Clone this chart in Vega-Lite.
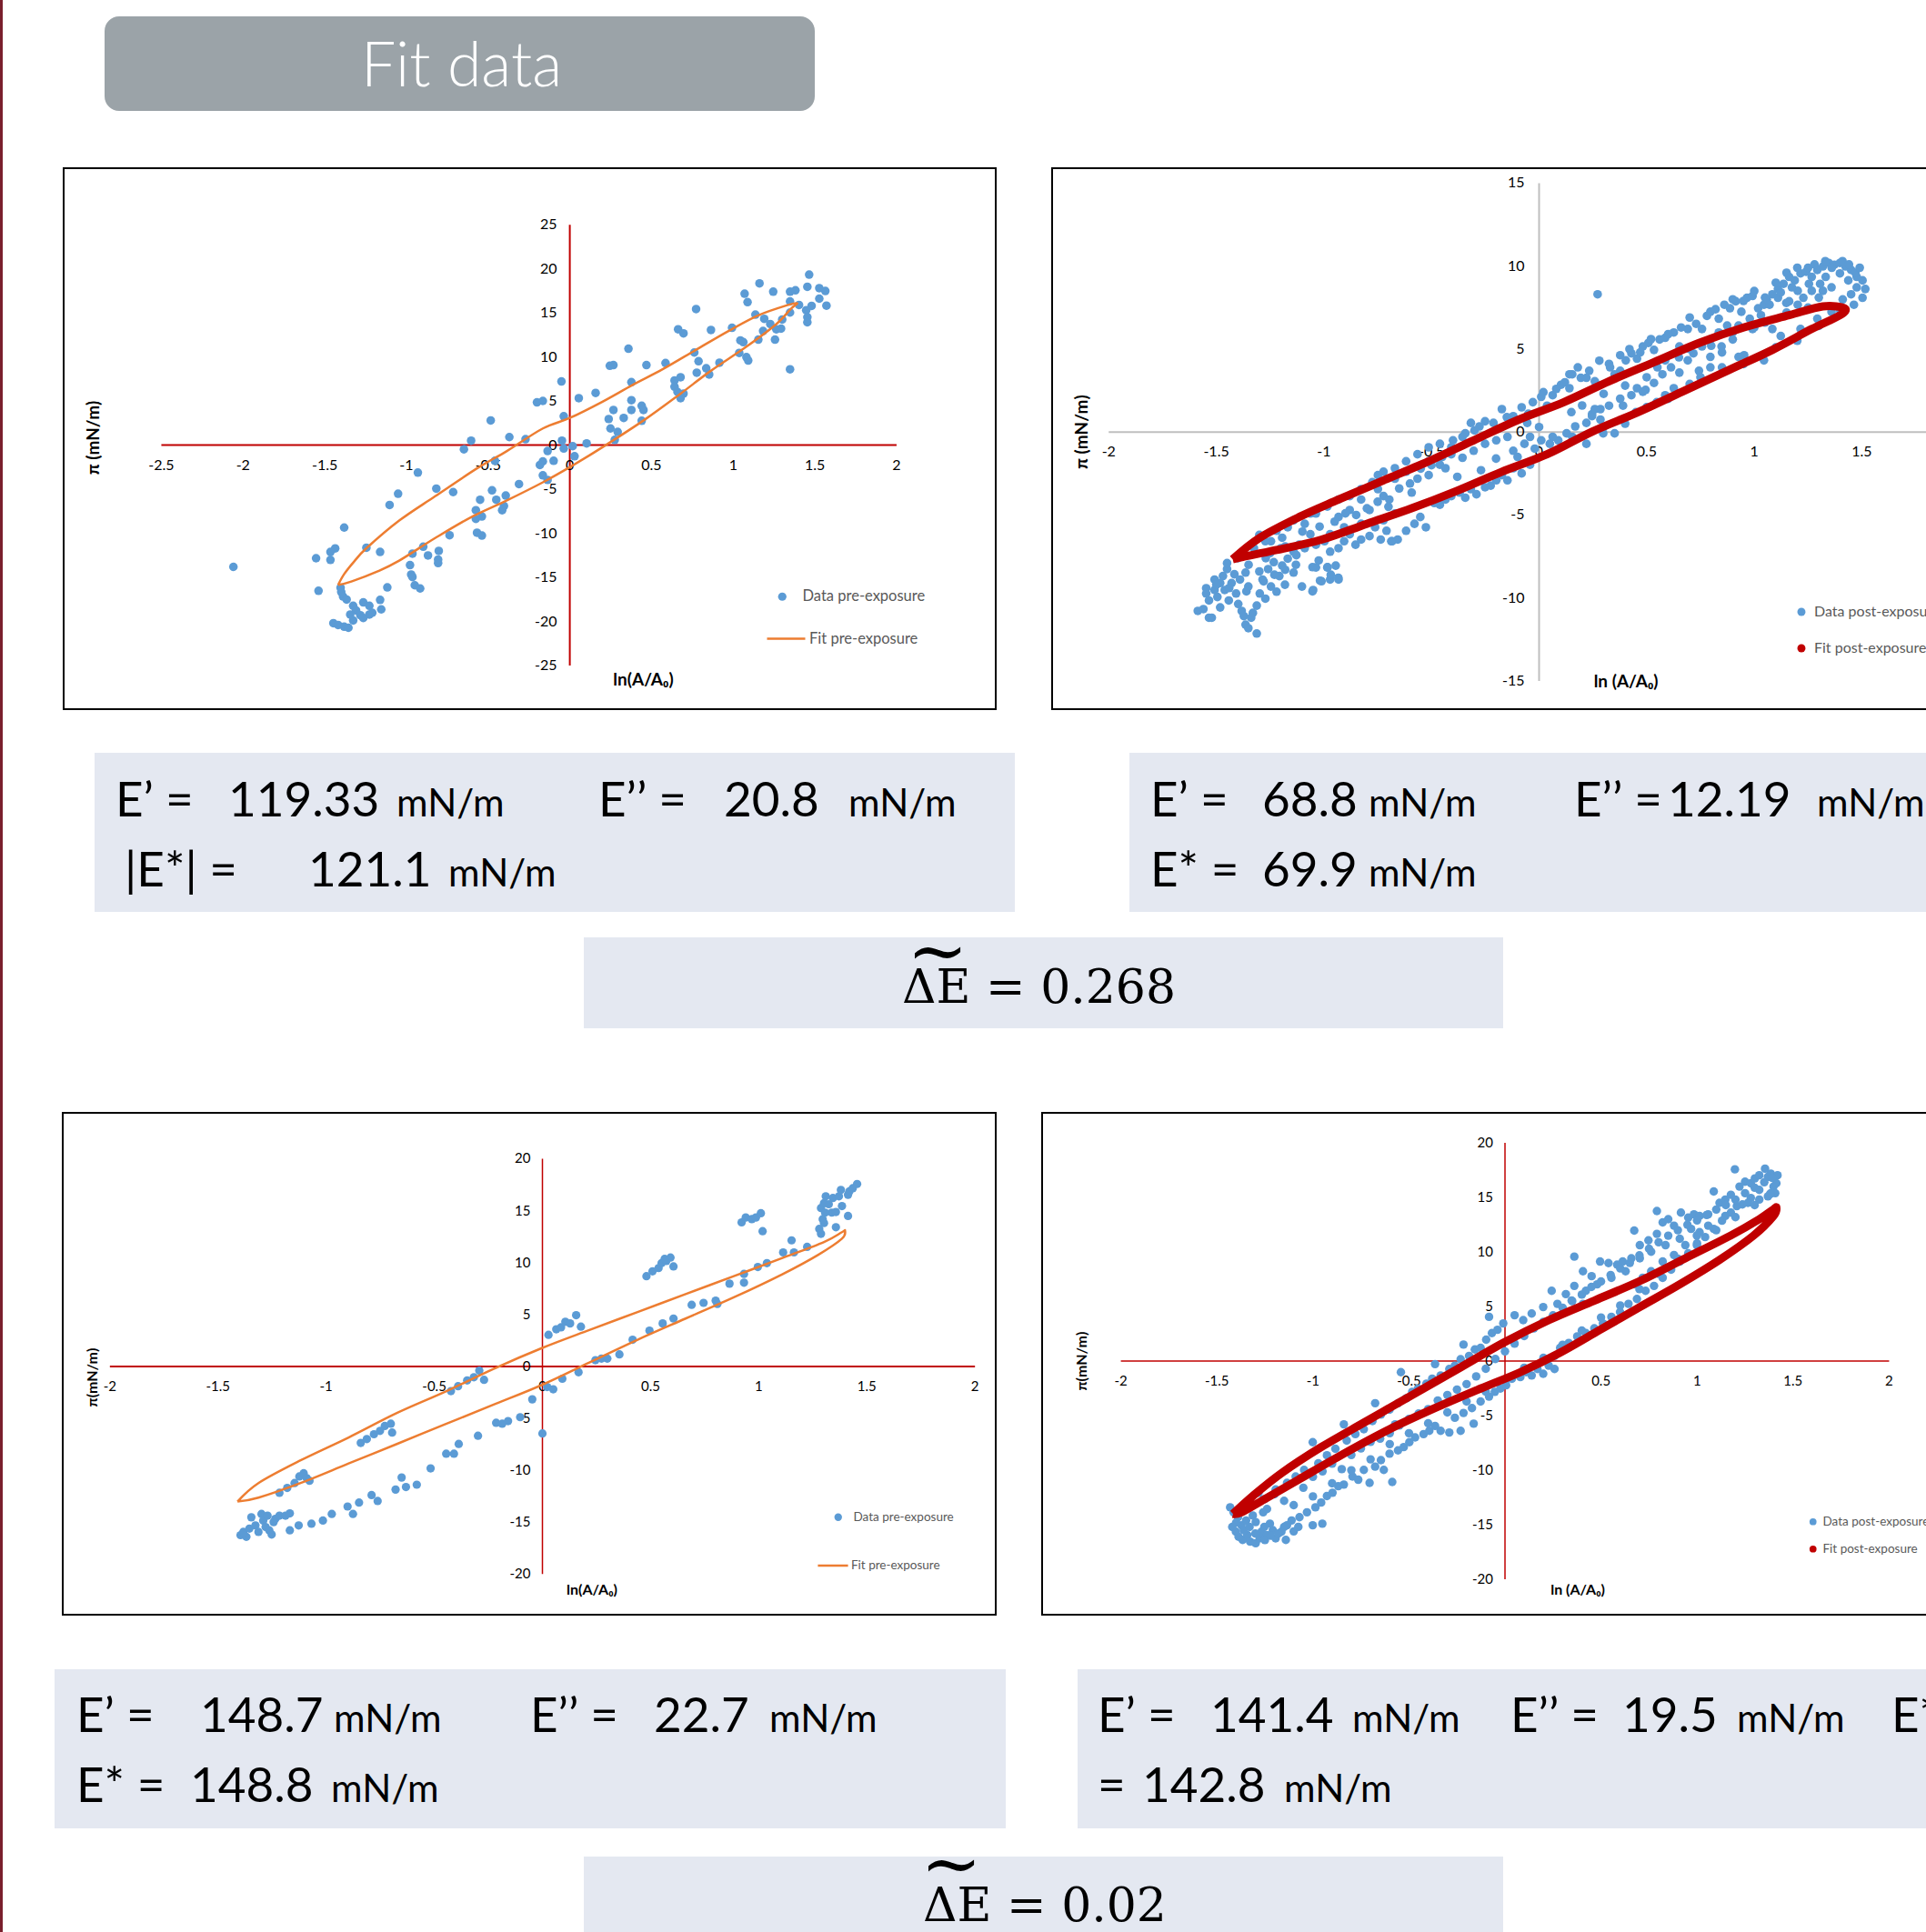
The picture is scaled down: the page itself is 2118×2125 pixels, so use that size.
{
"$schema": "https://vega.github.io/schema/vega-lite/v6.json",
"padding": 0,
"background": "white",
"spacing": 0,
"resolve": {"scale": {"color": "independent", "stroke": "independent"}, "legend": {"color": "independent", "stroke": "independent"}},
"config": {
  "view": {"stroke": null},
  "font": "Lato",
  "locale": {"number": {"decimal": ".", "thousands": ",", "grouping": [3], "currency": ["$", ""], "minus": "-"}},
  "style": {
    "big": {"font": "Lato", "fontSize": 53, "align": "left", "baseline": "alphabetic", "fill": "#000000"},
    "small": {"font": "Lato", "fontSize": 42, "align": "left", "baseline": "alphabetic", "fill": "#000000"},
    "tickx": {"font": "Lato", "fontSize": 16, "align": "center", "baseline": "middle", "fill": "#595959"},
    "ticky": {"font": "Lato", "fontSize": 16, "align": "right", "baseline": "middle", "fill": "#595959"},
    "tickx2": {"font": "Lato", "fontSize": 15, "align": "center", "baseline": "middle", "fill": "#595959"},
    "ticky2": {"font": "Lato", "fontSize": 15, "align": "right", "baseline": "middle", "fill": "#595959"},
    "atitle": {"font": "Lato", "fontSize": 19, "fontWeight": "bold", "align": "center", "baseline": "middle", "fill": "#595959"},
    "atitle2": {"font": "Lato", "fontSize": 16, "fontWeight": "bold", "align": "center", "baseline": "middle", "fill": "#595959"},
    "serif": {"font": "DejaVu Serif", "fontSize": 52, "align": "left", "baseline": "alphabetic", "fill": "#000000"},
    "tilde": {"font": "DejaVu Serif", "fontSize": 80, "align": "center", "baseline": "alphabetic", "fill": "#000000"}
  }
},
"datasets": {
  "p1": [{"x":1.465,"y":19.34},{"x":1.161,"y":18.35},{"x":1.07,"y":17.17},{"x":1.088,"y":16.22},{"x":1.245,"y":17.4},{"x":1.348,"y":17.4},{"x":1.381,"y":17.56},{"x":1.454,"y":17.96},{"x":1.527,"y":17.8},{"x":1.564,"y":17.48},{"x":1.527,"y":16.61},{"x":1.48,"y":15.79},{"x":1.571,"y":15.82},{"x":1.348,"y":16.3},{"x":1.403,"y":15.9},{"x":1.447,"y":15.3},{"x":1.454,"y":14.52},{"x":1.454,"y":13.93},{"x":1.348,"y":15.04},{"x":1.136,"y":14.8},{"x":1.19,"y":14.32},{"x":1.227,"y":13.73},{"x":1.3,"y":14.25},{"x":1.264,"y":13.14},{"x":1.293,"y":13.22},{"x":1.183,"y":12.94},{"x":1.256,"y":11.96},{"x":1.154,"y":11.96},{"x":1.044,"y":11.88},{"x":1.062,"y":11.68},{"x":1.037,"y":10.46},{"x":1.081,"y":9.98},{"x":1.092,"y":9.59},{"x":1.348,"y":8.6},{"x":0.993,"y":13.3},{"x":0.864,"y":13.06},{"x":0.773,"y":15.43},{"x":0.663,"y":13.14},{"x":0.696,"y":12.67},{"x":0.762,"y":10.5},{"x":0.788,"y":9.51},{"x":0.777,"y":8.21},{"x":0.835,"y":8.72},{"x":0.853,"y":8.01},{"x":0.916,"y":9.35},{"x":0.586,"y":9.31},{"x":0.469,"y":9.08},{"x":0.359,"y":10.93},{"x":0.245,"y":9.0},{"x":0.267,"y":9.08},{"x":0.377,"y":7.14},{"x":0.641,"y":7.34},{"x":0.678,"y":7.7},{"x":0.641,"y":6.63},{"x":0.659,"y":6.04},{"x":0.696,"y":5.84},{"x":0.678,"y":5.33},{"x":0.158,"y":5.92},{"x":0.055,"y":5.33},{"x":-0.051,"y":7.22},{"x":-0.037,"y":3.28},{"x":-0.201,"y":4.85},{"x":-0.165,"y":5.01},{"x":-0.484,"y":2.8},{"x":-0.37,"y":0.91},{"x":-0.271,"y":0.67},{"x":-0.604,"y":0.51},{"x":-0.648,"y":-0.47},{"x":-0.048,"y":0.51},{"x":-0.037,"y":-0.39},{"x":0.018,"y":-0.12},{"x":0.103,"y":0.2},{"x":0.267,"y":3.99},{"x":0.377,"y":3.99},{"x":0.33,"y":3.08},{"x":0.377,"y":5.09},{"x":0.44,"y":4.46},{"x":0.451,"y":3.99},{"x":0.44,"y":2.76},{"x":0.238,"y":2.96},{"x":0.249,"y":1.89},{"x":0.293,"y":1.5},{"x":0.275,"y":0.59},{"x":-0.136,"y":-0.67},{"x":-0.099,"y":-1.78},{"x":-0.165,"y":-1.85},{"x":-0.183,"y":-2.25},{"x":0.029,"y":-1.26},{"x":-0.165,"y":-3.43},{"x":-0.136,"y":-3.95},{"x":-0.458,"y":-1.78},{"x":-0.311,"y":-4.42},{"x":-0.476,"y":-5.13},{"x":-0.392,"y":-5.72},{"x":-0.45,"y":-6.2},{"x":-0.549,"y":-6.2},{"x":-0.403,"y":-6.91},{"x":-0.414,"y":-7.38},{"x":-0.575,"y":-7.38},{"x":-0.538,"y":-8.09},{"x":-0.575,"y":-8.37},{"x":-0.568,"y":-9.94},{"x":-0.538,"y":-10.26},{"x":-0.736,"y":-10.22},{"x":-0.714,"y":-5.33},{"x":-0.817,"y":-4.93},{"x":-0.93,"y":-3.12},{"x":-1.051,"y":-5.52},{"x":-1.103,"y":-6.79},{"x":-1.381,"y":-9.35},{"x":-1.245,"y":-11.64},{"x":-1.161,"y":-12.12},{"x":-1.436,"y":-11.72},{"x":-1.465,"y":-12.12},{"x":-1.553,"y":-12.83},{"x":-1.465,"y":-13.02},{"x":-2.059,"y":-13.81},{"x":-0.897,"y":-11.52},{"x":-0.802,"y":-12.0},{"x":-0.868,"y":-12.51},{"x":-0.963,"y":-12.31},{"x":-0.806,"y":-12.98},{"x":-0.806,"y":-13.38},{"x":-0.978,"y":-13.61},{"x":-0.971,"y":-14.68},{"x":-0.963,"y":-14.96},{"x":-0.949,"y":-15.9},{"x":-0.916,"y":-16.26},{"x":-1.117,"y":-16.14},{"x":-1.538,"y":-16.53},{"x":-1.403,"y":-16.18},{"x":-1.399,"y":-16.65},{"x":-1.388,"y":-17.17},{"x":-1.366,"y":-17.52},{"x":-1.326,"y":-18.23},{"x":-1.264,"y":-17.84},{"x":-1.227,"y":-18.23},{"x":-1.161,"y":-17.56},{"x":-1.154,"y":-18.63},{"x":-1.308,"y":-18.75},{"x":-1.344,"y":-19.22},{"x":-1.282,"y":-19.3},{"x":-1.227,"y":-19.22},{"x":-1.209,"y":-19.02},{"x":-1.326,"y":-19.89},{"x":-1.264,"y":-19.61},{"x":-1.447,"y":-20.2},{"x":-1.418,"y":-20.4},{"x":-1.381,"y":-20.6},{"x":-1.355,"y":-20.72}],
  "p1fit": [{"i":0,"x":-1.418,"y":-15.86},{"i":1,"x":-1.38,"y":-14.6},{"i":2,"x":-1.32,"y":-13.2},{"i":3,"x":-1.245,"y":-11.7},{"i":4,"x":-1.044,"y":-8.56},{"i":5,"x":-0.824,"y":-5.8},{"i":6,"x":-0.568,"y":-2.64},{"i":7,"x":-0.385,"y":-0.67},{"i":8,"x":-0.165,"y":1.89},{"i":9,"x":0,"y":3.08},{"i":10,"x":0.2,"y":4.93},{"i":11,"x":0.385,"y":6.83},{"i":12,"x":0.568,"y":8.6},{"i":13,"x":0.769,"y":10.77},{"i":14,"x":0.971,"y":12.94},{"i":15,"x":1.154,"y":14.72},{"i":16,"x":1.337,"y":15.9},{"i":17,"x":1.392,"y":16.1},{"i":18,"x":1.355,"y":15.5},{"i":19,"x":1.264,"y":13.73},{"i":20,"x":1.081,"y":11.17},{"i":21,"x":0.861,"y":8.4},{"i":22,"x":0.678,"y":5.84},{"i":23,"x":0.458,"y":2.88},{"i":24,"x":0.22,"y":0},{"i":25,"x":0.018,"y":-2.3},{"i":26,"x":-0.165,"y":-4.22},{"i":27,"x":-0.385,"y":-6.27},{"i":28,"x":-0.604,"y":-8.17},{"i":29,"x":-0.824,"y":-10.54},{"i":30,"x":-1.044,"y":-13.1},{"i":31,"x":-1.172,"y":-14.29},{"i":32,"x":-1.337,"y":-15.47},{"i":33,"x":-1.418,"y":-15.86}],
  "p2": [{"x":-1.56,"y":-10.67},{"x":-1.547,"y":-9.41},{"x":-1.534,"y":-10.15},{"x":-1.521,"y":-11.19},{"x":-1.508,"y":-8.89},{"x":-1.495,"y":-9.94},{"x":-1.482,"y":-10.57},{"x":-1.469,"y":-8.68},{"x":-1.461,"y":-9.52},{"x":-1.45,"y":-8.26},{"x":-1.442,"y":-10.15},{"x":-1.429,"y":-9.1},{"x":-1.416,"y":-8.57},{"x":-1.408,"y":-9.73},{"x":-1.398,"y":-10.36},{"x":-1.39,"y":-8.89},{"x":-1.382,"y":-10.78},{"x":-1.372,"y":-11.09},{"x":-1.364,"y":-11.61},{"x":-1.351,"y":-11.82},{"x":-1.338,"y":-11.19},{"x":-1.312,"y":-12.14},{"x":-1.312,"y":-10.46},{"x":-1.351,"y":-9.31},{"x":-1.364,"y":-8.47},{"x":-1.298,"y":-9.73},{"x":-1.285,"y":-8.89},{"x":-1.272,"y":-10.04},{"x":-1.259,"y":-8.26},{"x":-1.246,"y":-9.31},{"x":-1.233,"y":-7.84},{"x":-1.22,"y":-9.62},{"x":-1.207,"y":-8.68},{"x":-1.194,"y":-8.05},{"x":-1.181,"y":-9.2},{"x":-1.168,"y":-7.63},{"x":-1.141,"y":-8.47},{"x":-1.128,"y":-7.42},{"x":-1.102,"y":-9.31},{"x":-1.05,"y":-9.52},{"x":-1.037,"y":-8.16},{"x":-1.011,"y":-8.99},{"x":-0.984,"y":-8.16},{"x":-0.971,"y":-8.89},{"x":-0.932,"y":-8.89},{"x":-1.534,"y":-11.19},{"x":-1.586,"y":-10.78},{"x":-1.547,"y":-9.73},{"x":-1.508,"y":-9.52},{"x":-1.482,"y":-9.1},{"x":-1.325,"y":-7.0},{"x":-1.246,"y":-6.58},{"x":-1.194,"y":-6.37},{"x":-1.141,"y":-7.21},{"x":-1.089,"y":-7.0},{"x":-1.037,"y":-6.79},{"x":-0.997,"y":-6.58},{"x":-0.971,"y":-7.21},{"x":-0.932,"y":-7.0},{"x":-0.906,"y":-6.58},{"x":-0.88,"y":-6.16},{"x":-0.853,"y":-6.79},{"x":-0.827,"y":-6.48},{"x":-0.788,"y":-6.27},{"x":-0.762,"y":-5.74},{"x":-0.736,"y":-6.48},{"x":-0.709,"y":-5.95},{"x":-0.683,"y":-6.58},{"x":-0.657,"y":-6.48},{"x":-0.618,"y":-5.95},{"x":-0.579,"y":-5.53},{"x":-0.552,"y":-5.12},{"x":-0.526,"y":-5.74},{"x":-0.487,"y":-4.28},{"x":-0.461,"y":-4.38},{"x":-0.435,"y":-4.07},{"x":-0.408,"y":-3.86},{"x":-0.369,"y":-3.65},{"x":-0.343,"y":-3.96},{"x":-0.317,"y":-3.44},{"x":-0.291,"y":-3.75},{"x":-0.251,"y":-3.33},{"x":-0.225,"y":-3.23},{"x":-0.199,"y":-2.91},{"x":-0.173,"y":-2.6},{"x":-0.147,"y":-2.91},{"x":-0.12,"y":-2.18},{"x":-0.081,"y":-2.49},{"x":-0.042,"y":-1.97},{"x":-0.67,"y":-4.91},{"x":-0.723,"y":-5.32},{"x":-0.827,"y":-5.53},{"x":-0.906,"y":-5.74},{"x":-0.971,"y":-6.16},{"x":-1.063,"y":-6.16},{"x":-1.115,"y":-6.79},{"x":-1.024,"y":-7.74},{"x":-0.945,"y":-8.05},{"x":-1.168,"y":-5.74},{"x":-1.089,"y":-5.53},{"x":-1.037,"y":-4.91},{"x":-0.932,"y":-5.12},{"x":-0.88,"y":-4.7},{"x":-0.827,"y":-4.07},{"x":-0.749,"y":-3.44},{"x":-0.723,"y":-3.86},{"x":-0.67,"y":-2.81},{"x":-0.618,"y":-2.39},{"x":-0.565,"y":-2.81},{"x":-0.513,"y":-2.6},{"x":-0.461,"y":-1.97},{"x":-0.408,"y":-1.34},{"x":-0.356,"y":-1.55},{"x":-0.304,"y":-1.13},{"x":-0.251,"y":-0.71},{"x":-0.199,"y":-0.5},{"x":-0.147,"y":-0.29},{"x":-0.12,"y":-1.13},{"x":-0.068,"y":-0.71},{"x":-0.042,"y":-0.29},{"x":-0.788,"y":-4.7},{"x":-0.696,"y":-4.07},{"x":-0.592,"y":-3.65},{"x":-0.513,"y":-1.76},{"x":-0.435,"y":-2.18},{"x":-1.272,"y":-6.58},{"x":-1.22,"y":-5.95},{"x":-1.141,"y":-5.32},{"x":-1.063,"y":-4.91},{"x":-0.984,"y":-4.49},{"x":-0.932,"y":-4.07},{"x":-0.88,"y":-3.86},{"x":-0.827,"y":-3.44},{"x":-0.775,"y":-3.02},{"x":-0.749,"y":-2.6},{"x":-0.723,"y":-2.39},{"x":-0.67,"y":-2.18},{"x":-0.618,"y":-1.76},{"x":-0.565,"y":-1.34},{"x":-0.513,"y":-0.92},{"x":-0.461,"y":-0.71},{"x":-0.408,"y":-0.92},{"x":-0.356,"y":-0.29},{"x":-0.343,"y":-0.08},{"x":-0.317,"y":0.55},{"x":-0.277,"y":0.34},{"x":-0.251,"y":0.65},{"x":-0.212,"y":0.55},{"x":-0.173,"y":1.38},{"x":-0.12,"y":0.96},{"x":-0.081,"y":1.49},{"x":-0.055,"y":0.55},{"x":-0.029,"y":1.8},{"x":0.01,"y":2.12},{"x":0.037,"y":1.59},{"x":0.063,"y":2.22},{"x":0.102,"y":2.85},{"x":0.141,"y":2.64},{"x":0.154,"y":3.48},{"x":0.194,"y":3.27},{"x":0.233,"y":3.69},{"x":0.259,"y":3.06},{"x":0.325,"y":4.11},{"x":0.351,"y":3.48},{"x":0.377,"y":4.63},{"x":0.403,"y":4.32},{"x":0.429,"y":4.74},{"x":0.455,"y":4.42},{"x":0.482,"y":5.16},{"x":0.508,"y":5.37},{"x":0.534,"y":4.95},{"x":0.56,"y":5.58},{"x":0.586,"y":5.68},{"x":0.626,"y":6.0},{"x":0.652,"y":5.16},{"x":0.691,"y":6.21},{"x":0.73,"y":6.52},{"x":0.757,"y":6.21},{"x":0.796,"y":7.25},{"x":0.835,"y":6.83},{"x":0.861,"y":7.67},{"x":0.887,"y":7.46},{"x":0.914,"y":7.88},{"x":0.94,"y":7.25},{"x":0.966,"y":8.09},{"x":0.992,"y":8.2},{"x":1.018,"y":7.46},{"x":1.045,"y":7.67},{"x":1.084,"y":8.3},{"x":1.11,"y":8.62},{"x":1.136,"y":8.93},{"x":1.162,"y":9.35},{"x":1.188,"y":9.14},{"x":1.215,"y":9.56},{"x":1.241,"y":9.66},{"x":1.267,"y":9.35},{"x":1.293,"y":9.77},{"x":1.319,"y":9.98},{"x":1.346,"y":10.19},{"x":1.372,"y":10.08},{"x":1.398,"y":10.19},{"x":1.424,"y":9.98},{"x":1.45,"y":9.77},{"x":1.476,"y":9.35},{"x":1.503,"y":9.14},{"x":1.516,"y":8.62},{"x":1.503,"y":8.09},{"x":1.463,"y":7.67},{"x":1.411,"y":7.99},{"x":1.359,"y":8.72},{"x":1.306,"y":8.93},{"x":1.267,"y":8.51},{"x":1.228,"y":8.09},{"x":1.202,"y":7.67},{"x":1.162,"y":7.88},{"x":1.11,"y":8.09},{"x":1.071,"y":7.67},{"x":1.031,"y":7.04},{"x":0.979,"y":6.83},{"x":0.927,"y":6.42},{"x":0.874,"y":6.42},{"x":0.835,"y":6.0},{"x":0.796,"y":5.58},{"x":0.757,"y":5.16},{"x":0.717,"y":4.74},{"x":0.691,"y":4.32},{"x":0.652,"y":3.58},{"x":0.613,"y":3.9},{"x":0.573,"y":3.48},{"x":0.534,"y":2.96},{"x":0.495,"y":2.54},{"x":0.455,"y":2.64},{"x":0.429,"y":2.22},{"x":0.377,"y":2.01},{"x":0.325,"y":1.59},{"x":0.285,"y":1.38},{"x":0.246,"y":0.96},{"x":0.22,"y":0.55},{"x":0.168,"y":0.34},{"x":0.128,"y":-0.08},{"x":0.089,"y":-0.5},{"x":0.05,"y":-0.71},{"x":0.01,"y":-0.5},{"x":0.063,"y":-0.29},{"x":0.154,"y":-0.29},{"x":0.22,"y":-0.71},{"x":0.298,"y":-0.08},{"x":0.351,"y":-0.08},{"x":0.246,"y":1.07},{"x":0.259,"y":1.38},{"x":0.953,"y":4.63},{"x":1.045,"y":4.32},{"x":1.123,"y":5.79},{"x":1.215,"y":6.21},{"x":1.293,"y":6.83},{"x":1.359,"y":7.25},{"x":0.626,"y":2.64},{"x":0.586,"y":2.22},{"x":0.547,"y":1.8},{"x":0.482,"y":2.43},{"x":0.39,"y":1.59},{"x":0.285,"y":0.75},{"x":0.141,"y":3.48},{"x":0.22,"y":3.27},{"x":0.377,"y":3.69},{"x":0.586,"y":4.32},{"x":0.743,"y":3.69},{"x":0.796,"y":3.9},{"x":0.848,"y":5.16},{"x":0.9,"y":5.58},{"x":0.927,"y":4.53},{"x":0.796,"y":4.53},{"x":1.084,"y":6.21},{"x":0.992,"y":6.21},{"x":0.272,"y":8.3},{"x":1.149,"y":7.78},{"x":1.202,"y":8.51},{"x":1.332,"y":9.35},{"x":1.398,"y":9.56},{"x":1.437,"y":9.14},{"x":1.476,"y":8.72},{"x":1.45,"y":8.3},{"x":1.319,"y":8.51},{"x":1.254,"y":8.93},{"x":1.175,"y":8.72},{"x":1.123,"y":8.41},{"x":1.058,"y":7.99},{"x":0.02,"y":2.4},{"x":0.08,"y":2.6},{"x":0.12,"y":3.0},{"x":0.18,"y":3.9},{"x":0.28,"y":4.3},{"x":0.33,"y":3.9},{"x":0.42,"y":5.0},{"x":0.47,"y":4.8},{"x":0.52,"y":5.6},{"x":0.6,"y":5.9},{"x":0.66,"y":6.3},{"x":0.7,"y":6.9},{"x":0.78,"y":7.0},{"x":0.82,"y":7.4},{"x":0.9,"y":8.0},{"x":0.95,"y":7.9},{"x":1.0,"y":8.5},{"x":1.05,"y":8.1},{"x":1.1,"y":9.0},{"x":1.15,"y":9.6},{"x":1.2,"y":9.9},{"x":1.25,"y":9.9},{"x":1.28,"y":10.1},{"x":1.33,"y":10.3},{"x":1.36,"y":9.9},{"x":1.41,"y":10.3},{"x":1.44,"y":10.1},{"x":1.47,"y":9.6},{"x":1.49,"y":9.9},{"x":0.15,"y":1.2},{"x":0.2,"y":1.6},{"x":0.3,"y":2.3},{"x":0.4,"y":2.8},{"x":0.5,"y":3.3},{"x":0.55,"y":3.9},{"x":0.65,"y":4.5},{"x":0.7,"y":5.0},{"x":0.8,"y":5.2},{"x":0.85,"y":4.8},{"x":0.9,"y":6.0},{"x":1.0,"y":6.3},{"x":1.05,"y":6.6},{"x":1.15,"y":7.2},{"x":1.25,"y":7.5},{"x":1.3,"y":8.1},{"x":0.3,"y":0.3},{"x":0.4,"y":0.5},{"x":0.45,"y":1.2},{"x":0.5,"y":1.5},{"x":0.6,"y":2.0},{"x":0.7,"y":2.9},{"x":0.75,"y":3.3},{"x":0.85,"y":3.9},{"x":0.95,"y":4.1},{"x":1.1,"y":5.1},{"x":1.2,"y":5.5},{"x":1.3,"y":6.4},{"x":1.4,"y":7.3},{"x":-1.3,"y":-6.2},{"x":-1.25,"y":-7.3},{"x":-1.18,"y":-6.9},{"x":-1.1,"y":-6.0},{"x":-1.02,"y":-5.7},{"x":-0.95,"y":-5.4},{"x":-0.9,"y":-4.9},{"x":-0.85,"y":-5.0},{"x":-0.8,"y":-4.6},{"x":-0.75,"y":-4.2},{"x":-0.7,"y":-4.5},{"x":-0.65,"y":-3.4},{"x":-0.6,"y":-3.1},{"x":-0.55,"y":-2.2},{"x":-0.5,"y":-2.0},{"x":-0.45,"y":-1.5},{"x":-0.4,"y":-0.5},{"x":-0.38,"y":-2.7},{"x":-0.3,"y":0.1},{"x":-0.27,"y":-2.3},{"x":-0.2,"y":-1.6},{"x":-0.15,"y":0.9},{"x":-0.1,"y":-1.5},{"x":-0.05,"y":1.1},{"x":-0.02,"y":-1.0},{"x":0.0,"y":0.3},{"x":-1.45,"y":-7.9},{"x":-1.4,"y":-7.6},{"x":-1.35,"y":-8.0},{"x":-1.3,"y":-8.4},{"x":-1.27,"y":-7.6},{"x":-1.2,"y":-7.0},{"x":-1.5,"y":-9.2},{"x":-1.44,"y":-9.4},{"x":-1.36,"y":-9.6},{"x":-1.33,"y":-10.9},{"x":-1.28,"y":-9.0},{"x":-1.23,"y":-8.6},{"x":-1.18,"y":-8.3},{"x":-1.13,"y":-8.0},{"x":-1.053,"y":-8.14},{"x":-0.983,"y":-8.14},{"x":-1.018,"y":-8.96},{"x":-0.968,"y":-8.6},{"x":-0.933,"y":-8.78},{"x":-1.053,"y":-9.6},{"x":-0.687,"y":-6.58}],
  "p2fit": [{"i":0,"x":-1.424,"y":-7.67},{"i":1,"x":-1.298,"y":-6.37},{"i":2,"x":-1.115,"y":-5.12},{"i":3,"x":-0.932,"y":-4.07},{"i":4,"x":-0.723,"y":-2.91},{"i":5,"x":-0.513,"y":-1.76},{"i":6,"x":-0.304,"y":-0.5},{"i":7,"x":-0.094,"y":0.75},{"i":8,"x":0.115,"y":1.8},{"i":9,"x":0.325,"y":3.06},{"i":10,"x":0.534,"y":4.21},{"i":11,"x":0.743,"y":5.37},{"i":12,"x":0.953,"y":6.31},{"i":13,"x":1.162,"y":7.04},{"i":14,"x":1.319,"y":7.57},{"i":15,"x":1.419,"y":7.46},{"i":16,"x":1.398,"y":7.04},{"i":17,"x":1.267,"y":6.21},{"i":18,"x":1.084,"y":4.95},{"i":19,"x":0.874,"y":3.69},{"i":20,"x":0.665,"y":2.43},{"i":21,"x":0.455,"y":1.17},{"i":22,"x":0.246,"y":0.02},{"i":23,"x":0.037,"y":-1.34},{"i":24,"x":-0.173,"y":-2.39},{"i":25,"x":-0.382,"y":-3.54},{"i":26,"x":-0.592,"y":-4.59},{"i":27,"x":-0.801,"y":-5.53},{"i":28,"x":-1.011,"y":-6.48},{"i":29,"x":-1.22,"y":-7.11},{"i":30,"x":-1.377,"y":-7.53},{"i":31,"x":-1.424,"y":-7.67}],
  "p3": [{"x":-1.396,"y":-16.25},{"x":-1.369,"y":-16.41},{"x":-1.383,"y":-15.94},{"x":-1.355,"y":-15.62},{"x":-1.346,"y":-14.53},{"x":-1.327,"y":-15.31},{"x":-1.313,"y":-15.94},{"x":-1.299,"y":-14.21},{"x":-1.291,"y":-14.84},{"x":-1.28,"y":-15.47},{"x":-1.271,"y":-14.37},{"x":-1.263,"y":-15.78},{"x":-1.252,"y":-16.19},{"x":-1.243,"y":-14.99},{"x":-1.235,"y":-14.68},{"x":-1.216,"y":-14.37},{"x":-1.188,"y":-14.37},{"x":-1.168,"y":-14.15},{"x":-1.168,"y":-15.78},{"x":-1.127,"y":-15.31},{"x":-1.068,"y":-15.15},{"x":-1.015,"y":-14.84},{"x":-0.974,"y":-14.21},{"x":-0.901,"y":-13.49},{"x":-0.876,"y":-14.21},{"x":-0.848,"y":-13.11},{"x":-0.79,"y":-12.39},{"x":-0.762,"y":-12.96},{"x":-0.679,"y":-11.86},{"x":-0.651,"y":-10.7},{"x":-0.631,"y":-11.61},{"x":-0.581,"y":-11.39},{"x":-0.517,"y":-9.82},{"x":-0.445,"y":-8.41},{"x":-0.409,"y":-8.41},{"x":-0.387,"y":-7.47},{"x":-0.298,"y":-6.68},{"x":-0.214,"y":-5.43},{"x":-0.186,"y":-5.52},{"x":-0.159,"y":-5.27},{"x":-0.103,"y":-4.89},{"x":-0.047,"y":-3.17},{"x":0.0,"y":-6.46},{"x":0.022,"y":-1.98},{"x":0.05,"y":-2.2},{"x":0.092,"y":-1.19},{"x":0.167,"y":-0.56},{"x":0.245,"y":0.6},{"x":0.273,"y":0.75},{"x":0.3,"y":0.75},{"x":0.356,"y":1.16},{"x":0.417,"y":2.57},{"x":0.495,"y":3.45},{"x":0.556,"y":4.14},{"x":0.606,"y":4.61},{"x":0.69,"y":5.93},{"x":0.745,"y":6.12},{"x":0.801,"y":6.34},{"x":0.809,"y":6.02},{"x":0.865,"y":7.97},{"x":0.932,"y":8.06},{"x":0.932,"y":8.91},{"x":0.996,"y":9.57},{"x":1.038,"y":9.95},{"x":1.113,"y":10.98},{"x":1.163,"y":10.98},{"x":1.152,"y":12.14},{"x":1.224,"y":11.51},{"x":1.28,"y":13.24},{"x":1.288,"y":12.77},{"x":1.357,"y":13.4},{"x":1.302,"y":13.81},{"x":1.288,"y":15.25},{"x":1.302,"y":15.72},{"x":1.31,"y":16.38},{"x":1.324,"y":15.62},{"x":1.338,"y":14.81},{"x":1.343,"y":16.22},{"x":1.357,"y":14.87},{"x":1.385,"y":15.44},{"x":1.371,"y":16.38},{"x":1.38,"y":17.0},{"x":1.413,"y":14.49},{"x":1.413,"y":16.53},{"x":1.419,"y":16.85},{"x":1.435,"y":17.16},{"x":1.455,"y":17.57},{"x":1.307,"y":14.81},{"x":1.296,"y":14.18},{"x":0.921,"y":13.87},{"x":0.94,"y":14.34},{"x":0.968,"y":14.18},{"x":0.987,"y":14.34},{"x":1.01,"y":14.75},{"x":1.018,"y":13.02},{"x":0.481,"y":8.69},{"x":0.509,"y":9.16},{"x":0.537,"y":9.47},{"x":0.551,"y":9.95},{"x":0.573,"y":10.16},{"x":0.592,"y":10.48},{"x":0.606,"y":9.63},{"x":0.565,"y":10.35},{"x":0.028,"y":3.04},{"x":0.064,"y":3.58},{"x":0.086,"y":3.76},{"x":0.106,"y":4.3},{"x":0.128,"y":4.14},{"x":0.156,"y":4.93},{"x":0.178,"y":3.83},{"x":-0.423,"y":-2.38},{"x":-0.39,"y":-1.91},{"x":-0.348,"y":-1.35},{"x":-0.317,"y":-1.04},{"x":-0.292,"y":-0.41},{"x":-0.27,"y":-1.29},{"x":-0.84,"y":-7.37},{"x":-0.812,"y":-7.0},{"x":-0.779,"y":-6.53},{"x":-0.751,"y":-6.21},{"x":-0.729,"y":-5.74},{"x":-0.701,"y":-5.52},{"x":-0.695,"y":-6.37},{"x":-1.216,"y":-12.17},{"x":-1.18,"y":-11.7},{"x":-1.146,"y":-11.23},{"x":-1.124,"y":-10.6},{"x":-1.104,"y":-10.29},{"x":-1.09,"y":-10.76},{"x":-1.077,"y":-11.01}],
  "p3fit": [{"i":0,"x":-1.41,"y":-13.02},{"i":1,"x":-1.313,"y":-11.23},{"i":2,"x":-1.118,"y":-9.04},{"i":3,"x":-0.896,"y":-6.84},{"i":4,"x":-0.673,"y":-4.49},{"i":5,"x":-0.451,"y":-2.45},{"i":6,"x":-0.228,"y":-0.25},{"i":7,"x":0,"y":1.79},{"i":8,"x":0.217,"y":3.51},{"i":9,"x":0.44,"y":5.24},{"i":10,"x":0.662,"y":6.96},{"i":11,"x":0.885,"y":8.69},{"i":12,"x":1.107,"y":10.42},{"i":13,"x":1.302,"y":11.98},{"i":14,"x":1.385,"y":12.93},{"i":15,"x":1.399,"y":13.08},{"i":16,"x":1.385,"y":12.3},{"i":17,"x":1.274,"y":10.73},{"i":18,"x":1.107,"y":8.85},{"i":19,"x":0.885,"y":6.65},{"i":20,"x":0.662,"y":4.61},{"i":21,"x":0.44,"y":2.57},{"i":22,"x":0.217,"y":0.38},{"i":23,"x":0,"y":-1.76},{"i":24,"x":-0.228,"y":-3.7},{"i":25,"x":-0.451,"y":-5.58},{"i":26,"x":-0.673,"y":-7.47},{"i":27,"x":-0.896,"y":-9.35},{"i":28,"x":-1.118,"y":-11.23},{"i":29,"x":-1.313,"y":-12.64},{"i":30,"x":-1.41,"y":-13.02}],
  "p4": [{"x":-1.401,"y":-15.64},{"x":-1.387,"y":-16.09},{"x":-1.366,"y":-16.39},{"x":-1.342,"y":-15.94},{"x":-1.327,"y":-16.54},{"x":-1.298,"y":-16.69},{"x":-1.277,"y":-16.24},{"x":-1.268,"y":-15.64},{"x":-1.253,"y":-15.19},{"x":-1.239,"y":-15.94},{"x":-1.224,"y":-14.9},{"x":-1.209,"y":-15.49},{"x":-1.194,"y":-16.24},{"x":-1.164,"y":-15.64},{"x":-1.141,"y":-16.39},{"x":-1.135,"y":-15.04},{"x":-1.111,"y":-14.6},{"x":-1.076,"y":-15.19},{"x":-1.07,"y":-14.3},{"x":-1.031,"y":-13.85},{"x":-1.001,"y":-15.04},{"x":-0.987,"y":-13.4},{"x":-0.957,"y":-12.96},{"x":-0.951,"y":-14.9},{"x":-1.372,"y":-15.04},{"x":-1.348,"y":-14.6},{"x":-1.313,"y":-14.15},{"x":-1.298,"y":-14.75},{"x":-1.259,"y":-13.85},{"x":-1.239,"y":-13.55},{"x":-1.39,"y":-14.3},{"x":-1.413,"y":-13.85},{"x":-1.431,"y":-13.4},{"x":-1.327,"y":-12.66},{"x":-1.283,"y":-12.06},{"x":-0.927,"y":-12.36},{"x":-0.898,"y":-12.06},{"x":-0.868,"y":-11.46},{"x":-0.839,"y":-11.31},{"x":-0.794,"y":-10.57},{"x":-0.764,"y":-10.87},{"x":-0.735,"y":-9.97},{"x":-0.705,"y":-11.16},{"x":-0.676,"y":-9.67},{"x":-0.646,"y":-9.07},{"x":-0.631,"y":-9.97},{"x":-0.587,"y":-11.07},{"x":-0.601,"y":-8.48},{"x":-0.557,"y":-8.18},{"x":-0.527,"y":-7.88},{"x":-0.498,"y":-7.43},{"x":-0.468,"y":-6.99},{"x":-0.424,"y":-6.69},{"x":-0.394,"y":-6.39},{"x":-0.364,"y":-5.94},{"x":-0.335,"y":-6.39},{"x":-0.29,"y":-6.54},{"x":-0.231,"y":-6.39},{"x":-0.163,"y":-5.73},{"x":-0.261,"y":-5.19},{"x":-0.216,"y":-4.75},{"x":-0.172,"y":-4.3},{"x":-0.127,"y":-3.7},{"x":-0.083,"y":-3.25},{"x":-0.053,"y":-2.81},{"x":-0.024,"y":-2.51},{"x":0.006,"y":-2.21},{"x":0.036,"y":-1.61},{"x":0.08,"y":-1.46},{"x":0.11,"y":-1.01},{"x":0.139,"y":-1.31},{"x":0.169,"y":-0.72},{"x":0.199,"y":-1.16},{"x":0.228,"y":-0.42},{"x":0.258,"y":-0.72},{"x":-1.253,"y":-12.66},{"x":-1.194,"y":-11.76},{"x":-1.135,"y":-11.16},{"x":-1.09,"y":-10.57},{"x":-1.046,"y":-9.97},{"x":-1.001,"y":-7.43},{"x":-0.972,"y":-9.37},{"x":-0.927,"y":-8.63},{"x":-0.883,"y":-8.03},{"x":-0.839,"y":-5.79},{"x":-0.824,"y":-7.28},{"x":-0.779,"y":-6.69},{"x":-0.735,"y":-6.24},{"x":-0.69,"y":-5.49},{"x":-0.676,"y":-3.85},{"x":-0.646,"y":-4.9},{"x":-0.601,"y":-4.45},{"x":-0.572,"y":-5.79},{"x":-0.557,"y":-3.85},{"x":-0.542,"y":-1.01},{"x":-0.513,"y":-3.4},{"x":-0.483,"y":-2.81},{"x":-0.453,"y":-2.51},{"x":-0.409,"y":-2.06},{"x":-0.379,"y":-1.61},{"x":-0.364,"y":-0.27},{"x":-0.335,"y":-1.31},{"x":-0.29,"y":-0.72},{"x":-0.261,"y":-0.42},{"x":-0.231,"y":0.18},{"x":-0.216,"y":1.52},{"x":-0.187,"y":0.48},{"x":-0.157,"y":1.07},{"x":-0.127,"y":1.22},{"x":-0.098,"y":1.97},{"x":-0.083,"y":4.06},{"x":-0.068,"y":2.57},{"x":-0.039,"y":2.87},{"x":-0.009,"y":3.46},{"x":0.05,"y":4.21},{"x":0.095,"y":3.76},{"x":0.139,"y":4.36},{"x":0.199,"y":4.96},{"x":0.243,"y":6.45},{"x":0.273,"y":5.25},{"x":0.317,"y":6.15},{"x":0.361,"y":6.9},{"x":0.361,"y":9.58},{"x":0.406,"y":8.24},{"x":0.451,"y":7.79},{"x":0.495,"y":9.13},{"x":0.539,"y":8.99},{"x":0.584,"y":8.84},{"x":0.613,"y":9.13},{"x":0.658,"y":9.43},{"x":0.673,"y":11.97},{"x":0.702,"y":10.63},{"x":0.747,"y":11.07},{"x":0.791,"y":13.76},{"x":0.791,"y":11.67},{"x":0.821,"y":12.72},{"x":0.85,"y":13.01},{"x":0.88,"y":12.42},{"x":0.916,"y":13.61},{"x":0.954,"y":13.16},{"x":0.984,"y":13.46},{"x":1.013,"y":13.31},{"x":1.058,"y":13.46},{"x":1.087,"y":15.55},{"x":1.117,"y":14.51},{"x":1.147,"y":14.81},{"x":1.176,"y":15.25},{"x":1.197,"y":17.58},{"x":1.221,"y":16.0},{"x":1.25,"y":16.45},{"x":1.28,"y":16.3},{"x":1.301,"y":16.75},{"x":1.324,"y":17.04},{"x":1.354,"y":17.64},{"x":1.369,"y":16.9},{"x":1.384,"y":17.19},{"x":1.398,"y":16.0},{"x":1.407,"y":15.4},{"x":1.369,"y":15.1},{"x":1.324,"y":15.7},{"x":1.28,"y":14.96},{"x":1.236,"y":14.36},{"x":1.176,"y":13.61},{"x":1.13,"y":12.87},{"x":1.087,"y":12.12},{"x":1.042,"y":11.37},{"x":0.999,"y":10.63},{"x":0.954,"y":9.88},{"x":0.91,"y":9.13},{"x":0.865,"y":8.39},{"x":0.821,"y":7.64},{"x":0.776,"y":6.9},{"x":0.732,"y":6.45},{"x":0.687,"y":5.7},{"x":0.643,"y":5.25},{"x":0.599,"y":4.51},{"x":0.554,"y":4.06},{"x":0.51,"y":3.46},{"x":0.465,"y":3.01},{"x":0.421,"y":2.57},{"x":0.376,"y":2.27},{"x":0.332,"y":1.67},{"x":0.287,"y":1.22},{"x":0.258,"y":0.48},{"x":0.213,"y":0.18},{"x":0.969,"y":12.12},{"x":1.013,"y":11.82},{"x":1.058,"y":12.42},{"x":0.91,"y":11.22},{"x":0.836,"y":10.63},{"x":0.761,"y":10.03},{"x":0.702,"y":9.43},{"x":0.628,"y":8.24},{"x":0.554,"y":7.64},{"x":0.48,"y":7.04},{"x":0.421,"y":6.45},{"x":0.347,"y":5.55},{"x":0.406,"y":5.25},{"x":0.673,"y":7.04},{"x":0.717,"y":7.64},{"x":0.761,"y":8.24},{"x":0.821,"y":9.13},{"x":0.88,"y":9.73},{"x":0.939,"y":10.63},{"x":0.999,"y":11.52},{"x":1.147,"y":13.31},{"x":1.207,"y":14.21},{"x":1.265,"y":14.51},{"x":1.324,"y":14.81},{"x":1.384,"y":15.4},{"x":1.413,"y":16.3},{"x":1.419,"y":17.04},{"x":-1.2,"y":-12.2},{"x":-1.15,"y":-12.8},{"x":-1.05,"y":-11.6},{"x":-1.0,"y":-10.6},{"x":-0.95,"y":-10.1},{"x":-0.9,"y":-9.4},{"x":-0.85,"y":-9.9},{"x":-0.8,"y":-8.6},{"x":-0.75,"y":-8.0},{"x":-0.7,"y":-7.4},{"x":-0.65,"y":-7.1},{"x":-0.6,"y":-6.6},{"x":-0.55,"y":-5.9},{"x":-0.5,"y":-5.3},{"x":-0.45,"y":-4.8},{"x":-0.4,"y":-4.4},{"x":-0.35,"y":-3.6},{"x":-0.3,"y":-3.1},{"x":-0.25,"y":-2.6},{"x":-0.2,"y":-2.1},{"x":-0.15,"y":-1.4},{"x":-0.1,"y":-0.7},{"x":-0.05,"y":0.2},{"x":0.0,"y":0.9},{"x":0.05,"y":1.6},{"x":0.1,"y":2.3},{"x":0.15,"y":3.0},{"x":0.2,"y":3.6},{"x":0.25,"y":4.2},{"x":0.3,"y":4.9},{"x":0.35,"y":5.5},{"x":0.4,"y":6.1},{"x":0.45,"y":6.8},{"x":0.5,"y":7.3},{"x":0.55,"y":7.9},{"x":0.6,"y":8.5},{"x":0.65,"y":9.0},{"x":0.7,"y":9.7},{"x":0.75,"y":10.3},{"x":0.8,"y":10.9},{"x":0.85,"y":11.5},{"x":0.9,"y":12.0},{"x":0.95,"y":12.5},{"x":1.0,"y":12.9},{"x":1.05,"y":13.4},{"x":1.1,"y":13.9},{"x":1.15,"y":14.3},{"x":1.2,"y":14.8},{"x":1.25,"y":15.4},{"x":1.3,"y":15.9},{"x":1.35,"y":16.4},{"x":1.39,"y":16.8},{"x":-1.1,"y":-13.2},{"x":-1.0,"y":-12.4},{"x":-0.9,"y":-11.2},{"x":-0.8,"y":-10.0},{"x":-0.7,"y":-9.0},{"x":-0.6,"y":-7.6},{"x":-0.5,"y":-6.6},{"x":-0.4,"y":-5.7},{"x":-0.3,"y":-4.7},{"x":-0.2,"y":-3.7},{"x":-0.1,"y":-2.8},{"x":0.0,"y":-1.8},{"x":0.1,"y":-0.6},{"x":0.2,"y":0.3},{"x":0.3,"y":1.5},{"x":0.4,"y":2.8},{"x":0.5,"y":4.0},{"x":0.6,"y":5.1},{"x":0.7,"y":6.6},{"x":0.8,"y":8.0},{"x":0.9,"y":9.4},{"x":1.0,"y":10.8},{"x":1.1,"y":12.0},{"x":1.2,"y":13.2},{"x":1.3,"y":14.3},{"x":1.38,"y":15.3},{"x":-1.42,"y":-15.2},{"x":-1.4,"y":-14.8},{"x":-1.36,"y":-15.5},{"x":-1.33,"y":-15.2},{"x":-1.3,"y":-15.8},{"x":-1.25,"y":-16.4},{"x":-1.22,"y":-16.0},{"x":-1.18,"y":-15.8},{"x":-1.15,"y":-15.2},{"x":-1.1,"y":-15.6}],
  "p4fit": [{"i":0,"x":-1.416,"y":-14.0},{"i":1,"x":-1.313,"y":-12.36},{"i":2,"x":-1.164,"y":-10.27},{"i":3,"x":-0.957,"y":-7.88},{"i":4,"x":-0.72,"y":-5.49},{"i":5,"x":-0.483,"y":-3.1},{"i":6,"x":-0.246,"y":-0.72},{"i":7,"x":-0.009,"y":1.67},{"i":8,"x":0.228,"y":3.76},{"i":9,"x":0.465,"y":5.55},{"i":10,"x":0.702,"y":7.34},{"i":11,"x":0.939,"y":9.43},{"i":12,"x":1.176,"y":11.52},{"i":13,"x":1.324,"y":13.01},{"i":14,"x":1.398,"y":13.91},{"i":15,"x":1.413,"y":14.06},{"i":16,"x":1.398,"y":13.31},{"i":17,"x":1.295,"y":11.52},{"i":18,"x":1.117,"y":9.28},{"i":19,"x":0.91,"y":7.04},{"i":20,"x":0.702,"y":4.96},{"i":21,"x":0.495,"y":2.87},{"i":22,"x":0.287,"y":0.78},{"i":23,"x":0.08,"y":-1.01},{"i":24,"x":-0.127,"y":-2.51},{"i":25,"x":-0.364,"y":-4.3},{"i":26,"x":-0.601,"y":-6.24},{"i":27,"x":-0.839,"y":-8.48},{"i":28,"x":-1.076,"y":-10.87},{"i":29,"x":-1.253,"y":-12.66},{"i":30,"x":-1.372,"y":-13.85},{"i":31,"x":-1.416,"y":-14.0}],
  "xt25": [{"x":-2.5},{"x":-2},{"x":-1.5},{"x":-1},{"x":-0.5},{"x":0},{"x":0.5},{"x":1},{"x":1.5},{"x":2}],
  "xt20": [{"x":-2},{"x":-1.5},{"x":-1},{"x":-0.5},{"x":0},{"x":0.5},{"x":1},{"x":1.5},{"x":2}],
  "yt25": [{"y":-25},{"y":-20},{"y":-15},{"y":-10},{"y":-5},{"y":0},{"y":5},{"y":10},{"y":15},{"y":20},{"y":25}],
  "yt15": [{"y":-15},{"y":-10},{"y":-5},{"y":0},{"y":5},{"y":10},{"y":15}],
  "yt20": [{"y":-20},{"y":-15},{"y":-10},{"y":-5},{"y":0},{"y":5},{"y":10},{"y":15},{"y":20}]
},
"hconcat": [
  {"width": 3, "height": 2125, "view": {"fill": "#7A1F2D", "stroke": null}, "data": {"values": [{}]}, "mark": {"type": "text", "text": ""}},
  {"vconcat": [
    {"width": 1, "height": 18, "data": {"values": [{}]}, "mark": {"type": "text", "text": ""}},
    {"hconcat": [
      {"width": 112, "height": 161, "data": {"values": [{}]}, "mark": {"type": "text", "text": ""}},
      {"width": 781, "height": 104, "view": {"fill": "#9BA3A8", "stroke": null, "cornerRadius": 16}, "data": {"values": [{}]},
       "mark": {"type": "text", "text": "Fit data", "font": "Lato", "fontWeight": 300, "fontSize": 68, "fill": "#FFFFFF", "align": "center", "baseline": "alphabetic", "dx": 2, "dy": 25}}
    ], "spacing": 0, "bounds": "flush"},
    {"hconcat": [
      {"width": 67, "height": 637, "data": {"values": [{}]}, "mark": {"type": "text", "text": ""}},
      {"width": 1025, "height": 595, "view": {"stroke": "#000000", "strokeWidth": 2},
       "layer": [
        {"data": {"values": [{}]}, "mark": {"type": "rule", "color": "#C00000", "strokeWidth": 2},
         "encoding": {
          "x": {"datum": -2.5, "type": "quantitative", "scale": {"domain": [-3.098, 2.607], "nice": false, "zero": false}, "axis": null},
          "x2": {"datum": 2},
          "y": {"datum": 0, "type": "quantitative", "scale": {"domain": [-29.95, 31.41], "nice": false, "zero": false}, "axis": null}}},
        {"data": {"values": [{}]}, "mark": {"type": "rule", "color": "#C00000", "strokeWidth": 2},
         "encoding": {"x": {"datum": 0, "type": "quantitative", "axis": null}, "y": {"datum": -25, "type": "quantitative", "axis": null}, "y2": {"datum": 25}}},
        {"data": {"name": "xt25"}, "mark": {"type": "text", "style": "tickx", "dy": 22},
         "encoding": {"x": {"field": "x", "type": "quantitative", "axis": null}, "y": {"datum": 0, "type": "quantitative", "axis": null}, "text": {"field": "x", "type": "quantitative"}}},
        {"data": {"name": "yt25"}, "mark": {"type": "text", "style": "ticky", "dx": -14},
         "encoding": {"x": {"datum": 0, "type": "quantitative", "axis": null}, "y": {"field": "y", "type": "quantitative", "axis": null}, "text": {"field": "y", "type": "quantitative"}}},
        {"data": {"values": [{}]}, "mark": {"type": "text", "style": "atitle", "text": "ln(A/A₀)"},
         "encoding": {"x": {"datum": 0.45, "type": "quantitative", "axis": null}, "y": {"datum": -26.6, "type": "quantitative", "axis": null}}},
        {"data": {"values": [{}]}, "mark": {"type": "text", "style": "atitle", "text": "π (mN/m)", "angle": 270},
         "encoding": {"x": {"datum": -2.916, "type": "quantitative", "axis": null}, "y": {"datum": 0.83, "type": "quantitative", "axis": null}}},
        {"data": {"name": "p1"}, "mark": {"type": "point", "filled": true, "opacity": 1, "size": 90},
         "encoding": {"x": {"field": "x", "type": "quantitative", "axis": null}, "y": {"field": "y", "type": "quantitative", "axis": null},
          "color": {"datum": "Data pre-exposure", "scale": {"domain": ["Data pre-exposure"], "range": ["#5B9BD5"]},
                    "legend": {"orient": "none", "legendX": 782, "legendY": 463, "title": null, "symbolType": "circle", "symbolSize": 85, "labelFont": "Lato", "labelFontSize": 16.5, "labelColor": "#595959", "labelOffset": 14}}}},
        {"data": {"name": "p1fit"}, "mark": {"type": "line", "strokeWidth": 2.5, "interpolate": "cardinal"},
         "encoding": {"x": {"field": "x", "type": "quantitative", "axis": null}, "y": {"field": "y", "type": "quantitative", "axis": null}, "order": {"field": "i"},
          "stroke": {"datum": "Fit pre-exposure", "scale": {"domain": ["Fit pre-exposure"], "range": ["#ED7D31"]},
                     "legend": {"orient": "none", "legendX": 772, "legendY": 495, "title": null, "symbolType": "stroke", "symbolSize": 1764, "symbolStrokeWidth": 2.5, "labelFont": "Lato", "labelFontSize": 16.5, "labelColor": "#595959", "labelOffset": 3}}}}
       ]},
      {"width": 62, "height": 1, "data": {"values": [{}]}, "mark": {"type": "text", "text": ""}},
      {"width": 963, "height": 595, "view": {"stroke": "#000000", "strokeWidth": 2},
       "layer": [
        {"data": {"values": [{}]}, "mark": {"type": "rule", "color": "#BFBFBF", "strokeWidth": 2, "clip": true},
         "encoding": {
          "x": {"datum": -2, "type": "quantitative", "scale": {"domain": [-2.263, 1.8065], "nice": false, "zero": false}, "axis": null},
          "x2": {"datum": 2},
          "y": {"datum": 0, "type": "quantitative", "scale": {"domain": [-16.7, 15.9], "nice": false, "zero": false}, "axis": null}}},
        {"data": {"values": [{}]}, "mark": {"type": "rule", "color": "#BFBFBF", "strokeWidth": 2},
         "encoding": {"x": {"datum": 0, "type": "quantitative", "axis": null}, "y": {"datum": -15, "type": "quantitative", "axis": null}, "y2": {"datum": 15}}},
        {"data": {"name": "xt20"}, "mark": {"type": "text", "style": "tickx", "dy": 22, "clip": true},
         "encoding": {"x": {"field": "x", "type": "quantitative", "axis": null}, "y": {"datum": 0, "type": "quantitative", "axis": null}, "text": {"field": "x", "type": "quantitative"}}},
        {"data": {"name": "yt15"}, "mark": {"type": "text", "style": "ticky", "dx": -16},
         "encoding": {"x": {"datum": 0, "type": "quantitative", "axis": null}, "y": {"field": "y", "type": "quantitative", "axis": null}, "text": {"field": "y", "type": "quantitative"}}},
        {"data": {"values": [{}]}, "mark": {"type": "text", "style": "atitle", "text": "ln (A/A₀)"},
         "encoding": {"x": {"datum": 0.404, "type": "quantitative", "axis": null}, "y": {"datum": -15.06, "type": "quantitative", "axis": null}}},
        {"data": {"values": [{}]}, "mark": {"type": "text", "style": "atitle", "text": "π (mN/m)", "angle": 270},
         "encoding": {"x": {"datum": -2.124, "type": "quantitative", "axis": null}, "y": {"datum": 0, "type": "quantitative", "axis": null}}},
        {"data": {"name": "p2"}, "mark": {"type": "point", "filled": true, "opacity": 1, "size": 92, "clip": true},
         "encoding": {"x": {"field": "x", "type": "quantitative", "axis": null}, "y": {"field": "y", "type": "quantitative", "axis": null},
          "color": {"datum": "Data post-exposure", "scale": {"domain": ["Data post-exposure", "Fit post-exposure"], "range": ["#5B9BD5", "#C00000"]},
                    "legend": {"orient": "none", "legendX": 816, "legendY": 480, "title": null, "symbolType": "circle", "symbolSize": 80, "rowPadding": 24, "labelFont": "Lato", "labelFontSize": 16, "labelColor": "#595959", "labelOffset": 6}}}},
        {"data": {"name": "p2fit"}, "mark": {"type": "line", "strokeWidth": 9, "color": "#C00000", "interpolate": "cardinal", "clip": true},
         "encoding": {"x": {"field": "x", "type": "quantitative", "axis": null}, "y": {"field": "y", "type": "quantitative", "axis": null}, "order": {"field": "i"}}}
       ]}
    ], "spacing": 0, "bounds": "flush", "resolve": {"scale": {"color": "independent", "stroke": "independent"}, "legend": {"color": "independent", "stroke": "independent"}}},
    {"hconcat": [
      {"width": 101, "height": 181, "data": {"values": [{}]}, "mark": {"type": "text", "text": ""}},
      {"width": 1012, "height": 175, "view": {"fill": "#E4E8F1", "stroke": null}, "data": {"values": [{}]},
       "layer": [
        {"mark": {"type": "text", "style": "big", "text": "E’ =", "dx": -483, "dy": -17.5}},
        {"mark": {"type": "text", "style": "big", "text": "119.33", "dx": -359, "dy": -17.5}},
        {"mark": {"type": "text", "style": "small", "text": "mN/m", "dx": -174, "dy": -17.5}},
        {"mark": {"type": "text", "style": "big", "text": "E’’ =", "dx": 48, "dy": -17.5}},
        {"mark": {"type": "text", "style": "big", "text": "20.8", "dx": 186, "dy": -17.5}},
        {"mark": {"type": "text", "style": "small", "text": "mN/m", "dx": 323, "dy": -17.5}},
        {"mark": {"type": "text", "style": "big", "text": "|E*| =", "dx": -473, "dy": 59.5}},
        {"mark": {"type": "text", "style": "big", "text": "121.1", "dx": -271, "dy": 59.5}},
        {"mark": {"type": "text", "style": "small", "text": "mN/m", "dx": -117, "dy": 59.5}}
       ]},
      {"width": 126, "height": 1, "data": {"values": [{}]}, "mark": {"type": "text", "text": ""}},
      {"width": 876, "height": 175, "view": {"fill": "#E4E8F1", "stroke": null}, "data": {"values": [{}]},
       "layer": [
        {"mark": {"type": "text", "style": "big", "text": "E’ =", "dx": -415, "dy": -17.5}},
        {"mark": {"type": "text", "style": "big", "text": "68.8", "dx": -292, "dy": -17.5}},
        {"mark": {"type": "text", "style": "small", "text": "mN/m", "dx": -175, "dy": -17.5}},
        {"mark": {"type": "text", "style": "big", "text": "E’’ =", "dx": 51, "dy": -17.5}},
        {"mark": {"type": "text", "style": "big", "text": "12.19", "dx": 154, "dy": -17.5}},
        {"mark": {"type": "text", "style": "small", "text": "mN/m", "dx": 318, "dy": -17.5, "clip": true}},
        {"mark": {"type": "text", "style": "big", "text": "E* =", "dx": -415, "dy": 59.5}},
        {"mark": {"type": "text", "style": "big", "text": "69.9", "dx": -292, "dy": 59.5}},
        {"mark": {"type": "text", "style": "small", "text": "mN/m", "dx": -175, "dy": 59.5}}
       ]}
    ], "spacing": 0, "bounds": "flush"},
    {"hconcat": [
      {"width": 639, "height": 187, "data": {"values": [{}]}, "mark": {"type": "text", "text": ""}},
      {"width": 1011, "height": 100, "view": {"fill": "#E4E8F1", "stroke": null}, "data": {"values": [{}]},
       "layer": [
        {"mark": {"type": "text", "style": "serif", "text": "ΔE = 0.268", "dx": -155.5, "dy": 22}},
        {"mark": {"type": "text", "style": "tilde", "text": "~", "dx": -116.5, "dy": -8}}
       ]}
    ], "spacing": 0, "bounds": "flush"},
    {"hconcat": [
      {"width": 66, "height": 606, "data": {"values": [{}]}, "mark": {"type": "text", "text": ""}},
      {"width": 1026, "height": 552, "view": {"stroke": "#000000", "strokeWidth": 2},
       "layer": [
        {"data": {"values": [{}]}, "mark": {"type": "rule", "color": "#C00000", "strokeWidth": 2},
         "encoding": {
          "x": {"datum": -2, "type": "quantitative", "scale": {"domain": [-2.218, 2.096], "nice": false, "zero": false}, "axis": null},
          "x2": {"datum": 2},
          "y": {"datum": 0, "type": "quantitative", "scale": {"domain": [-23.91, 24.42], "nice": false, "zero": false}, "axis": null}}},
        {"data": {"values": [{}]}, "mark": {"type": "rule", "color": "#C00000", "strokeWidth": 1.5},
         "encoding": {"x": {"datum": 0, "type": "quantitative", "axis": null}, "y": {"datum": -20, "type": "quantitative", "axis": null}, "y2": {"datum": 20}}},
        {"data": {"name": "xt20"}, "mark": {"type": "text", "style": "tickx2", "dy": 22},
         "encoding": {"x": {"field": "x", "type": "quantitative", "axis": null}, "y": {"datum": 0, "type": "quantitative", "axis": null}, "text": {"field": "x", "type": "quantitative"}}},
        {"data": {"name": "yt20"}, "mark": {"type": "text", "style": "ticky2", "dx": -13},
         "encoding": {"x": {"datum": 0, "type": "quantitative", "axis": null}, "y": {"field": "y", "type": "quantitative", "axis": null}, "text": {"field": "y", "type": "quantitative"}}},
        {"data": {"values": [{}]}, "mark": {"type": "text", "style": "atitle2", "text": "ln(A/A₀)"},
         "encoding": {"x": {"datum": 0.229, "type": "quantitative", "axis": null}, "y": {"datum": -21.55, "type": "quantitative", "axis": null}}},
        {"data": {"values": [{}]}, "mark": {"type": "text", "style": "atitle2", "text": "π(mN/m)", "angle": 270},
         "encoding": {"x": {"datum": -2.08, "type": "quantitative", "axis": null}, "y": {"datum": -1.06, "type": "quantitative", "axis": null}}},
        {"data": {"name": "p3"}, "mark": {"type": "point", "filled": true, "opacity": 1, "size": 85},
         "encoding": {"x": {"field": "x", "type": "quantitative", "axis": null}, "y": {"field": "y", "type": "quantitative", "axis": null},
          "color": {"datum": "Data pre-exposure", "scale": {"domain": ["Data pre-exposure"], "range": ["#5B9BD5"]},
                    "legend": {"orient": "none", "legendX": 846, "legendY": 438, "title": null, "symbolType": "circle", "symbolSize": 70, "labelFont": "Lato", "labelFontSize": 13.5, "labelColor": "#595959", "labelOffset": 10}}}},
        {"data": {"name": "p3fit"}, "mark": {"type": "line", "strokeWidth": 2.5, "interpolate": "cardinal"},
         "encoding": {"x": {"field": "x", "type": "quantitative", "axis": null}, "y": {"field": "y", "type": "quantitative", "axis": null}, "order": {"field": "i"},
          "stroke": {"datum": "Fit pre-exposure", "scale": {"domain": ["Fit pre-exposure"], "range": ["#ED7D31"]},
                     "legend": {"orient": "none", "legendX": 829, "legendY": 480, "title": null, "symbolType": "stroke", "symbolSize": 1100, "symbolStrokeWidth": 2.5, "labelFont": "Lato", "labelFontSize": 13.5, "labelColor": "#595959", "labelOffset": 2}}}}
       ]},
      {"width": 51, "height": 1, "data": {"values": [{}]}, "mark": {"type": "text", "text": ""}},
      {"width": 974, "height": 552, "view": {"stroke": "#000000", "strokeWidth": 2},
       "layer": [
        {"data": {"values": [{}]}, "mark": {"type": "rule", "color": "#C00000", "strokeWidth": 1.5},
         "encoding": {
          "x": {"datum": -2, "type": "quantitative", "scale": {"domain": [-2.41, 2.2015], "nice": false, "zero": false}, "axis": null},
          "x2": {"datum": 2},
          "y": {"datum": 0, "type": "quantitative", "scale": {"domain": [-23.24, 22.76], "nice": false, "zero": false}, "axis": null}}},
        {"data": {"values": [{}]}, "mark": {"type": "rule", "color": "#C00000", "strokeWidth": 1.5},
         "encoding": {"x": {"datum": 0, "type": "quantitative", "axis": null}, "y": {"datum": -20, "type": "quantitative", "axis": null}, "y2": {"datum": 20}}},
        {"data": {"name": "xt20"}, "mark": {"type": "text", "style": "tickx2", "dy": 22},
         "encoding": {"x": {"field": "x", "type": "quantitative", "axis": null}, "y": {"datum": 0, "type": "quantitative", "axis": null}, "text": {"field": "x", "type": "quantitative"}}},
        {"data": {"name": "yt20"}, "mark": {"type": "text", "style": "ticky2", "dx": -13},
         "encoding": {"x": {"datum": 0, "type": "quantitative", "axis": null}, "y": {"field": "y", "type": "quantitative", "axis": null}, "text": {"field": "y", "type": "quantitative"}}},
        {"data": {"values": [{}]}, "mark": {"type": "text", "style": "atitle2", "text": "ln (A/A₀)"},
         "encoding": {"x": {"datum": 0.379, "type": "quantitative", "axis": null}, "y": {"datum": -20.99, "type": "quantitative", "axis": null}}},
        {"data": {"values": [{}]}, "mark": {"type": "text", "style": "atitle2", "text": "π(mN/m)", "angle": 270},
         "encoding": {"x": {"datum": -2.202, "type": "quantitative", "axis": null}, "y": {"datum": 0, "type": "quantitative", "axis": null}}},
        {"data": {"name": "p4"}, "mark": {"type": "point", "filled": true, "opacity": 1, "size": 88, "clip": true},
         "encoding": {"x": {"field": "x", "type": "quantitative", "axis": null}, "y": {"field": "y", "type": "quantitative", "axis": null},
          "color": {"datum": "Data post-exposure", "scale": {"domain": ["Data post-exposure", "Fit post-exposure"], "range": ["#5B9BD5", "#C00000"]},
                    "legend": {"orient": "none", "legendX": 841, "legendY": 443, "title": null, "symbolType": "circle", "symbolSize": 60, "rowPadding": 15, "labelFont": "Lato", "labelFontSize": 13.5, "labelColor": "#595959", "labelOffset": 4}}}},
        {"data": {"name": "p4fit"}, "mark": {"type": "line", "strokeWidth": 9, "color": "#C00000", "interpolate": "cardinal", "clip": true},
         "encoding": {"x": {"field": "x", "type": "quantitative", "axis": null}, "y": {"field": "y", "type": "quantitative", "axis": null}, "order": {"field": "i"}}}
       ]}
    ], "spacing": 0, "bounds": "flush", "resolve": {"scale": {"color": "independent", "stroke": "independent"}, "legend": {"color": "independent", "stroke": "independent"}}},
    {"hconcat": [
      {"width": 57, "height": 177, "data": {"values": [{}]}, "mark": {"type": "text", "text": ""}},
      {"width": 1046, "height": 175, "view": {"fill": "#E4E8F1", "stroke": null}, "data": {"values": [{}]},
       "layer": [
        {"mark": {"type": "text", "style": "big", "text": "E’ =", "dx": -499, "dy": -18.5}},
        {"mark": {"type": "text", "style": "big", "text": "148.7", "dx": -363, "dy": -18.5}},
        {"mark": {"type": "text", "style": "small", "text": "mN/m", "dx": -216, "dy": -18.5}},
        {"mark": {"type": "text", "style": "big", "text": "E’’ =", "dx": 0, "dy": -18.5}},
        {"mark": {"type": "text", "style": "big", "text": "22.7", "dx": 136, "dy": -18.5}},
        {"mark": {"type": "text", "style": "small", "text": "mN/m", "dx": 263, "dy": -18.5}},
        {"mark": {"type": "text", "style": "big", "text": "E* =", "dx": -499, "dy": 58.5}},
        {"mark": {"type": "text", "style": "big", "text": "148.8", "dx": -374, "dy": 58.5}},
        {"mark": {"type": "text", "style": "small", "text": "mN/m", "dx": -219, "dy": 58.5}}
       ]},
      {"width": 79, "height": 1, "data": {"values": [{}]}, "mark": {"type": "text", "text": ""}},
      {"width": 933, "height": 175, "view": {"fill": "#E4E8F1", "stroke": null}, "data": {"values": [{}]},
       "layer": [
        {"mark": {"type": "text", "style": "big", "text": "E’ =", "dx": -444.5, "dy": -18.5}},
        {"mark": {"type": "text", "style": "big", "text": "141.4", "dx": -320.5, "dy": -18.5}},
        {"mark": {"type": "text", "style": "small", "text": "mN/m", "dx": -164.5, "dy": -18.5}},
        {"mark": {"type": "text", "style": "big", "text": "E’’ =", "dx": 9.5, "dy": -18.5}},
        {"mark": {"type": "text", "style": "big", "text": "19.5", "dx": 132.5, "dy": -18.5}},
        {"mark": {"type": "text", "style": "small", "text": "mN/m", "dx": 258.5, "dy": -18.5}},
        {"mark": {"type": "text", "style": "big", "text": "E*", "dx": 428.5, "dy": -18.5, "clip": true}},
        {"mark": {"type": "text", "style": "big", "text": "=", "dx": -444.5, "dy": 58.5}},
        {"mark": {"type": "text", "style": "big", "text": "142.8", "dx": -395.5, "dy": 58.5}},
        {"mark": {"type": "text", "style": "small", "text": "mN/m", "dx": -239.5, "dy": 58.5}}
       ]}
    ], "spacing": 0, "bounds": "flush"},
    {"hconcat": [
      {"width": 639, "height": 83, "data": {"values": [{}]}, "mark": {"type": "text", "text": ""}},
      {"width": 1011, "height": 83, "view": {"fill": "#E4E8F1", "stroke": null}, "data": {"values": [{}]},
       "layer": [
        {"mark": {"type": "text", "style": "serif", "text": "ΔE = 0.02", "dx": -132.5, "dy": 29.5}},
        {"mark": {"type": "text", "style": "tilde", "text": "~", "dx": -101.5, "dy": -6.5}}
       ]}
    ], "spacing": 0, "bounds": "flush"}
  ], "spacing": 0, "resolve": {"scale": {"color": "independent", "stroke": "independent"}, "legend": {"color": "independent", "stroke": "independent"}}}
]
}
